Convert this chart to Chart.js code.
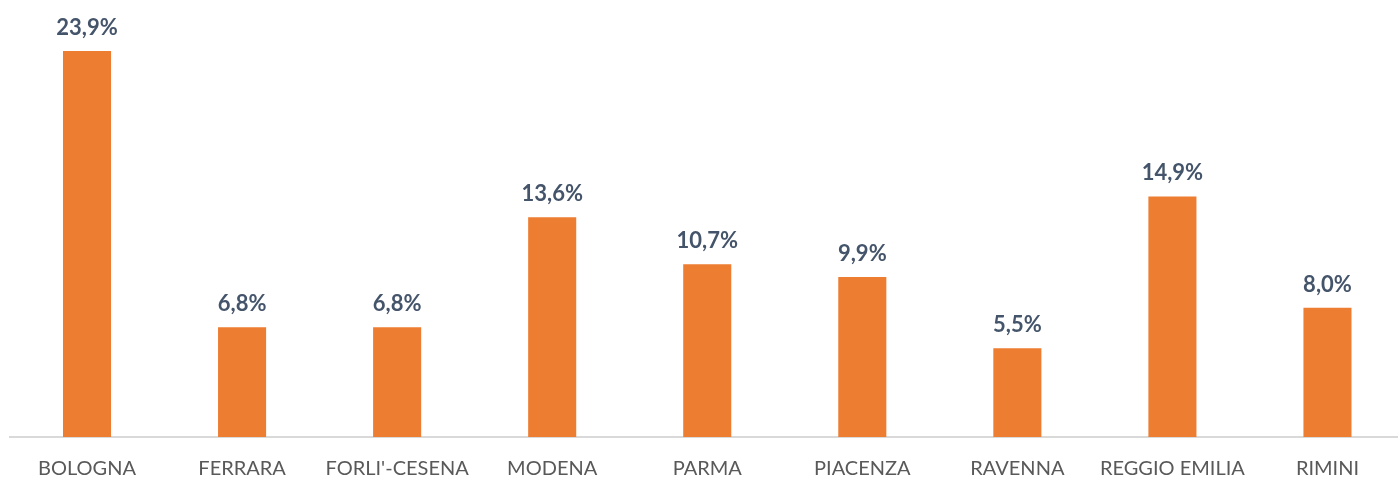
<!DOCTYPE html>
<html>
<head>
<meta charset="utf-8">
<script src="https://cdn.jsdelivr.net/npm/chart.js@4"></script>
<style>
  html, body { margin: 0; padding: 0; background: #fff; overflow: hidden; }
  #wrap { width: 1405px; height: 480px; }
</style>
</head>
<body>
<div id="wrap"><canvas id="provChart" width="1405" height="480"></canvas></div>
<script>
// categorie e valori (%)
const province = ['BOLOGNA', 'FERRARA', "FORLI'-CESENA", 'MODENA', 'PARMA', 'PIACENZA', 'RAVENNA', 'REGGIO EMILIA', 'RIMINI'];
const quote = [23.9, 6.8, 6.8, 13.6, 10.7, 9.9, 5.5, 14.9, 8.0];

// etichette sopra le barre
const etichette = {
    id: 'etichette',
    afterDatasetsDraw(chart) {
        const ctx = chart.ctx;
        const meta = chart.getDatasetMeta(0);
        ctx.save();
        ctx.font = 'bold 22px Lato';
        ctx.fillStyle = '#44546A';
        ctx.textAlign = 'center';
        ctx.textBaseline = 'middle';
        meta.data.forEach(function(bar, i) {
            const txt = quote[i].toFixed(1).replace('.', ',') + '%';
            ctx.fillText(txt, bar.x, bar.y - 23);
        });
        ctx.restore();
    }
};

const ctx = document.getElementById('provChart').getContext('2d');
new Chart(ctx, {
    type: 'bar',
    data: {
        labels: province,
        datasets: [{
            data: quote,
            backgroundColor: '#ED7D31',
            barPercentage: 0.31,
            categoryPercentage: 1
        }]
    },
    options: {
        responsive: false,
        animation: false,
        layout: { padding: { left: 9.5, right: 0, top: 0, bottom: 0 } },
        plugins: {
            legend: { display: false },
            tooltip: { enabled: false }
        },
        scales: {
            x: {
                grid: { display: false, drawTicks: false },
                border: { display: true, color: '#D9D9D9', width: 2 },
                ticks: {
                    color: '#595959',
                    font: { family: 'Lato', size: 20 },
                    padding: 20,
                    maxRotation: 0,
                    autoSkip: false
                },
                afterFit(scale) { scale.height = 43; }
            },
            y: {
                display: false,
                min: 0,
                max: 27.06
            }
        }
    },
    plugins: [etichette]
});
</script>
</body>
</html>
